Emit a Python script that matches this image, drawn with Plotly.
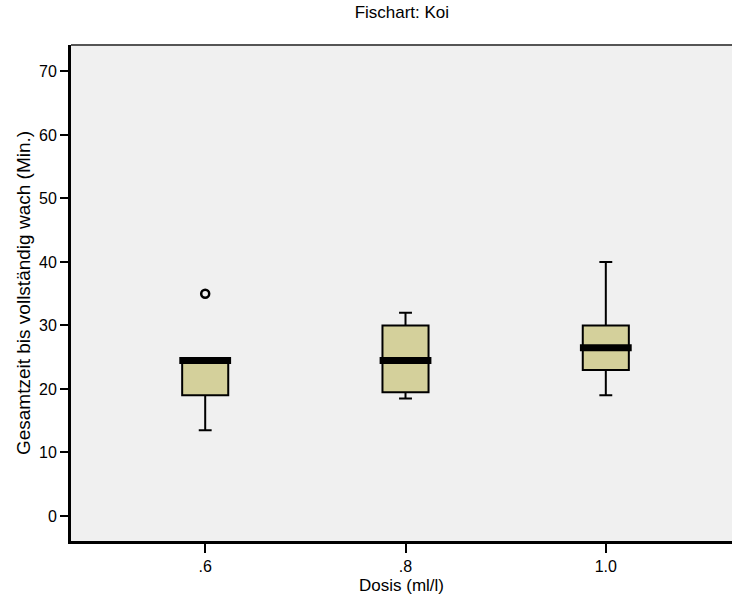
import plotly.graph_objects as go

# Data
doses = [".6", ".8", "1.0"]
q1 = [19.0, 19.5, 23.0]
median = [24.5, 24.5, 26.5]
q3 = [24.5, 30.0, 30.0]
lower_whisker = [13.5, 18.5, 19.0]
upper_whisker = [24.5, 32.0, 40.0]
outlier_x = [".6"]
outlier_y = [35.0]

y_ticks = [0, 10, 20, 30, 40, 50, 60, 70]

FONT = "Liberation Sans, Arial, sans-serif"

fig = go.Figure()

fig.add_trace(go.Box(
    x=doses,
    q1=q1,
    median=median,
    q3=q3,
    lowerfence=lower_whisker,
    upperfence=upper_whisker,
    width=0.23,
    whiskerwidth=0.28,
    fillcolor="#d4d09b",
    line=dict(color="black", width=2),
    boxpoints=False,
    hoverinfo="skip",
    showlegend=False,
))

# thick median bars
fig.add_trace(go.Scatter(
    x=doses,
    y=median,
    mode="markers",
    marker=dict(symbol="line-ew", size=37, color="black",
                line=dict(color="black", width=7)),
    showlegend=False,
    hoverinfo="skip",
))

# outliers
fig.add_trace(go.Scatter(
    x=outlier_x,
    y=outlier_y,
    mode="markers",
    marker=dict(symbol="circle-open", size=8, color="black",
                line=dict(color="black", width=2.5)),
    showlegend=False,
    hoverinfo="skip",
))

fig.update_layout(
    width=732,
    height=600,
    margin=dict(l=71, r=0, t=45, b=59),
    paper_bgcolor="white",
    plot_bgcolor="#f0f0f0",
    font=dict(family=FONT, color="black", size=16),
    title=dict(text="Fischart: Koi", x=0.549, xanchor="center",
               y=0.99, yanchor="top",
               font=dict(family=FONT, size=17, color="black")),
    xaxis=dict(
        type="category",
        range=[-0.67, 2.63],
        showline=True, linecolor="black", linewidth=3,
        ticks="outside", ticklen=9, tickwidth=2, tickcolor="black",
        showgrid=False, zeroline=False,
        tickfont=dict(size=16),
        title=dict(text="Dosis (ml/l)", font=dict(size=17), standoff=5),
    ),
    yaxis=dict(
        range=[-3.94, 74.16],
        tickvals=y_ticks,
        showline=True, linecolor="black", linewidth=3,
        ticks="outside", ticklen=8, tickwidth=2, tickcolor="black",
        showgrid=False, zeroline=False,
        tickfont=dict(size=16),
        title=dict(text="Gesamtzeit bis vollständig wach (Min.)",
                   font=dict(size=19), standoff=4),
    ),
    shapes=[dict(type="line", xref="paper", yref="paper",
                 x0=0, x1=1, y0=1, y1=1,
                 line=dict(color="#555555", width=2))],
)

fig.write_html(
    "out.html",
    config={"displayModeBar": False},
    post_script="document.body.style.margin='0';document.body.style.overflow='hidden';",
)
